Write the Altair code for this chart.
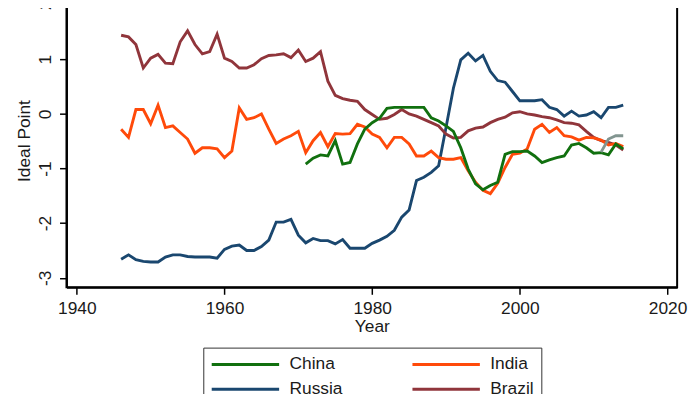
import altair as alt
import pandas as pd

countries = ["China", "India", "Russia", "Brazil", "South Africa"]
colors = ["#11700f", "#ff4a0a", "#1a476f", "#90353b", "#829590"]

years_full = list(range(1946, 2015))

brazil = [1.44, 1.41, 1.27, 0.84, 1.02, 1.09, 0.93, 0.92, 1.32, 1.52,
          1.27, 1.10, 1.14, 1.46, 1.02, 0.96, 0.84, 0.84, 0.90, 1.01,
          1.07, 1.08, 1.10, 1.03, 1.17, 0.96, 1.02, 1.14, 0.60, 0.34,
          0.28, 0.25, 0.23, 0.08, -0.01, -0.10, -0.08, -0.01, 0.08, 0.00,
          -0.04, -0.10, -0.16, -0.22, -0.37, -0.44, -0.43, -0.31, -0.26, -0.24,
          -0.16, -0.10, -0.06, 0.02, 0.04, 0.00, -0.02, -0.05, -0.07, -0.11,
          -0.16, -0.17, -0.20, -0.32, -0.43, -0.49, -0.52, -0.57, -0.66]

india = [-0.28, -0.43, 0.08, 0.08, -0.18, 0.16, -0.25, -0.22, -0.34, -0.46,
         -0.72, -0.62, -0.62, -0.64, -0.80, -0.68, 0.11, -0.10, -0.07, 0.00,
         -0.28, -0.54, -0.46, -0.40, -0.32, -0.71, -0.49, -0.34, -0.60, -0.36,
         -0.37, -0.36, -0.19, -0.24, -0.37, -0.43, -0.62, -0.43, -0.43, -0.55,
         -0.77, -0.77, -0.68, -0.80, -0.83, -0.83, -0.80, -1.04, -1.25, -1.40,
         -1.46, -1.27, -0.98, -0.74, -0.72, -0.64, -0.28, -0.19, -0.34, -0.25,
         -0.40, -0.42, -0.48, -0.43, -0.44, -0.48, -0.57, -0.54, -0.60]

russia = [-2.66, -2.58, -2.67, -2.70, -2.71, -2.71, -2.62, -2.58, -2.58, -2.61,
          -2.62, -2.62, -2.62, -2.64, -2.48, -2.42, -2.40, -2.50, -2.50, -2.43,
          -2.31, -1.98, -1.98, -1.93, -2.22, -2.36, -2.28, -2.32, -2.32, -2.38,
          -2.30, -2.46, -2.46, -2.46, -2.37, -2.31, -2.24, -2.13, -1.89, -1.76,
          -1.22, -1.16, -1.07, -0.95, -0.25, 0.47, 0.99, 1.11, 0.97, 1.07,
          0.78, 0.61, 0.58, 0.41, 0.24, 0.24, 0.24, 0.26, 0.12, 0.08,
          -0.04, 0.05, -0.04, -0.02, 0.04, -0.07, 0.12, 0.12, 0.16]

years_china = list(range(1971, 2015))
china = [-0.92, -0.81, -0.75, -0.77, -0.49, -0.92, -0.89, -0.55, -0.28, -0.16,
         -0.08, 0.10, 0.12, 0.12, 0.12, 0.12, 0.12, -0.07, -0.13, -0.22,
         -0.32, -0.62, -1.01, -1.28, -1.39, -1.31, -1.25, -0.74, -0.69, -0.69,
         -0.68, -0.77, -0.89, -0.84, -0.80, -0.77, -0.57, -0.54, -0.62, -0.72,
         -0.71, -0.75, -0.55, -0.64]

years_sa = [2011, 2012, 2013, 2014]
south_africa = [-0.70, -0.46, -0.40, -0.40]

x_ticks = [1940, 1960, 1980, 2000, 2020]
y_ticks = [-3, -2, -1, 0, 1, 2]

rows = []
for name, yrs, vals in [("Russia", years_full, russia), ("Brazil", years_full, brazil),
                        ("India", years_full, india), ("China", years_china, china),
                        ("South Africa", years_sa, south_africa)]:
    for yv, v in zip(yrs, vals):
        rows.append({"year": yv, "value": v, "country": name})
df = pd.DataFrame(rows)

FONT = "Liberation Sans"
FS = 17.5

chart = alt.Chart(df).mark_line(strokeWidth=2.9, clip=True).encode(
    x=alt.X("year:Q",
            scale=alt.Scale(domain=[1938.6, 2021.3], nice=False, zero=False),
            axis=alt.Axis(values=x_ticks, title="Year", labelExpr="datum.value + ''")),
    y=alt.Y("value:Q",
            scale=alt.Scale(domain=[-3.175, 2.2], nice=False, zero=False),
            axis=alt.Axis(values=y_ticks, title="Ideal Point", labelAngle=270,
                          labelAlign="center", labelBaseline="bottom",
                          labelExpr="datum.value + ''")),
    color=alt.Color("country:N",
                    scale=alt.Scale(domain=countries, range=colors),
                    legend=alt.Legend(orient="none", legendX=138, legendY=357,
                                      direction="horizontal",
                                      columns=2, title=None, symbolType="stroke",
                                      symbolSize=4624, symbolStrokeWidth=3,
                                      clipHeight=20, labelOffset=9, rowPadding=5,
                                      columnPadding=26.5, padding=7,
                                      strokeColor="#333333", labelFont=FONT,
                                      labelFontSize=FS, labelColor="#1a1a1a")),
).properties(
    width=616, height=296.2, autosize="none",
    padding={"left": 59, "top": -16.2, "right": 15, "bottom": 130},
).configure_view(
    stroke="black", strokeWidth=2
).configure_axis(
    domainColor="black", domainWidth=2, tickColor="black", tickWidth=1.5,
    tickSize=7, grid=False, labelFont=FONT, labelFontSize=FS,
    labelColor="#1a1a1a", titleFont=FONT, titleFontSize=FS,
    titleFontWeight="normal", titleColor="#1a1a1a", labelPadding=5,
).configure_axisX(titlePadding=1).configure_axisY(titlePadding=3)

chart.save("out.html", embed_options={"renderer": "svg", "actions": False})
